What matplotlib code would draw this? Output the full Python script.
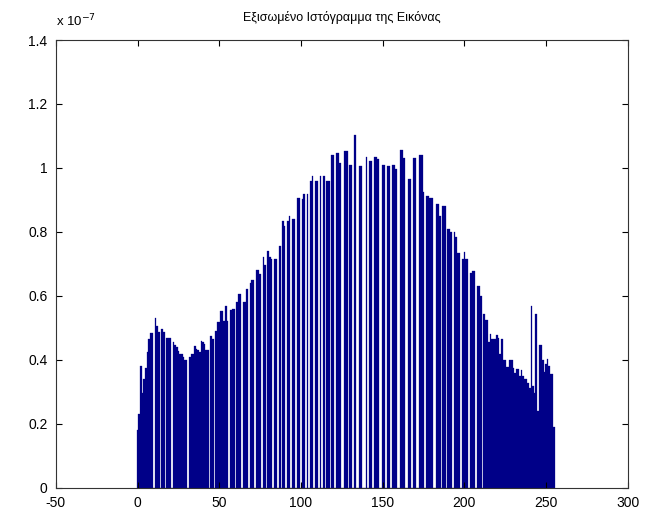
import matplotlib
matplotlib.use("Agg")
import matplotlib.pyplot as plt
import numpy as np

# grey levels 0..255 and the equalized histogram heights (units of 1e-7)
levels = np.arange(256)
heights = [
    0.18, 0.23, 0.38, 0.295, 0.34, 0.375, 0.425, 0.465, 0.484, 0.485,
    0, 0.531, 0.505, 0.487, 0, 0.497, 0.487, 0, 0.47, 0.47,
    0.47, 0, 0.455, 0.448, 0.44, 0.427, 0.417, 0.42, 0.409, 0.40,
    0.40, 0, 0.41, 0.42, 0.42, 0.445, 0.435, 0.43, 0.425, 0.458,
    0.455, 0.45, 0.432, 0.432, 0, 0.476, 0.466, 0, 0.49, 0.52,
    0.52, 0.552, 0.552, 0.523, 0.568, 0.523, 0, 0.557, 0.56, 0.56,
    0, 0.58, 0.606, 0.606, 0, 0.58, 0.58, 0.622, 0, 0.639,
    0.651, 0.651, 0, 0.68, 0.68, 0.667, 0, 0.722, 0.698, 0,
    0.74, 0.722, 0.714, 0, 0.714, 0.714, 0, 0.757, 0, 0.833,
    0.818, 0, 0.833, 0.849, 0, 0.84, 0.84, 0, 0.906, 0.906,
    0, 0.903, 0.92, 0, 0.92, 0, 0.958, 0.974, 0, 0.958,
    0.958, 0, 0.974, 0, 0.974, 0, 0.96, 0.96, 0, 1.04,
    1.04, 0, 1.047, 1.047, 1.014, 0, 0, 1.052, 1.052, 0,
    1.01, 1.01, 0, 1.104, 0, 0, 1.005, 1.005, 0, 0,
    1.034, 0, 1.023, 1.023, 0, 1.034, 1.034, 1.027, 0, 0,
    1.01, 1.01, 0, 1.005, 1.005, 0, 1.01, 1.01, 0.997, 0,
    0, 1.055, 1.055, 1.031, 0, 0, 0.966, 0.966, 0, 1.031,
    1.031, 0, 0, 1.042, 1.042, 0.924, 0, 0.911, 0.911, 0.906,
    0.906, 0, 0, 0.888, 0.888, 0.849, 0, 0.882, 0.882, 0,
    0.809, 0.809, 0.799, 0, 0.799, 0.783, 0.734, 0.734, 0, 0.717,
    0.738, 0.717, 0.717, 0, 0.672, 0.677, 0.677, 0, 0.63, 0.63,
    0.60, 0, 0.545, 0.526, 0.526, 0.455, 0.482, 0.466, 0.466, 0.466,
    0.479, 0.468, 0.42, 0.466, 0.40, 0.40, 0.377, 0.377, 0.401, 0.401,
    0.375, 0.36, 0.372, 0.372, 0.349, 0.368, 0.349, 0.339, 0.339, 0.328,
    0.3125, 0.57, 0.318, 0.297, 0.542, 0.24, 0.446, 0.446, 0.401, 0.361,
    0.3875, 0.404, 0.382, 0.356, 0.356, 0.19,
]
xticks = [-50, 0, 50, 100, 150, 200, 250, 300]
yticks = [0, 0.2, 0.4, 0.6, 0.8, 1.0, 1.2, 1.4]
ytick_labels = ["0", "0.2", "0.4", "0.6", "0.8", "1", "1.2", "1.4"]
title = "Εξισωμένο Ιστόγραμμα της Εικόνας"

plt.rcParams["font.family"] = ["Liberation Sans", "DejaVu Sans"]

fig = plt.figure(figsize=(6.58, 5.13), dpi=100)
ax = fig.add_axes([0.085, 0.049, 0.869, 0.873])

bar_color = "#000088"
ax.bar(levels, heights, width=1.0, color=bar_color, edgecolor=bar_color,
       linewidth=0.2)

ax.set_xlim(-50, 300)
ax.set_ylim(0, 1.4)
ax.set_xticks(xticks)
ax.set_xticklabels([str(t) for t in xticks])
ax.set_yticks(yticks)
ax.set_yticklabels(ytick_labels)
ax.tick_params(direction="in", length=4, width=0.8, labelsize=10,
               top=True, right=True)
ax.tick_params(axis="x", pad=6)
ax.tick_params(axis="y", pad=6)
for s in ax.spines.values():
    s.set_linewidth(0.8)
    s.set_color("#333333")

ax.set_title(title, fontsize=9, pad=14)
ax.text(0.0, 1.025, "x 10$^{-7}$", transform=ax.transAxes, fontsize=9.5,
        ha="left", va="bottom")

fig.savefig("out.png", dpi=100)
